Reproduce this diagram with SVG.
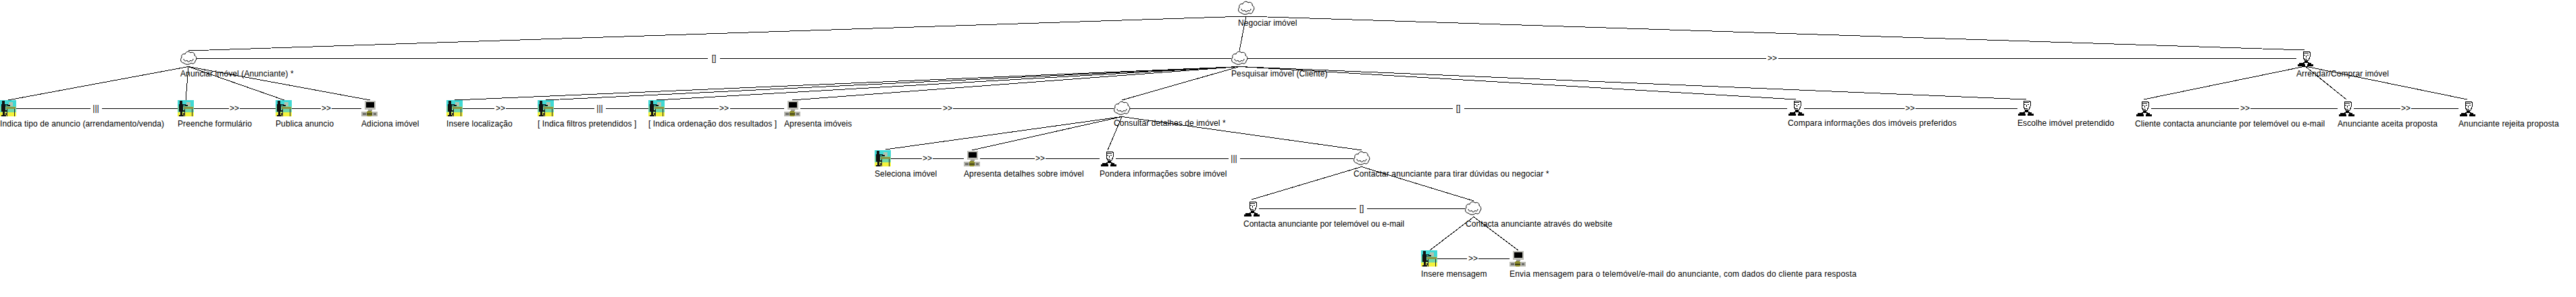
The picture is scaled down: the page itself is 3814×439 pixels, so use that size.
<svg xmlns="http://www.w3.org/2000/svg" width="3814" height="439" viewBox="0 0 3814 439">
<style>
text{font-family:"Liberation Sans",Arial,sans-serif;font-size:12px;fill:#000;letter-spacing:.1px}
.c{text-anchor:middle;letter-spacing:0}
.w{letter-spacing:.2px}
.n{letter-spacing:0}
.l{fill:none;stroke:#000;stroke-width:1;shape-rendering:crispEdges}
.px{shape-rendering:crispEdges}
</style>
<defs>
<g id="task" class="px">
<rect width="24" height="18" fill="#3fd8d4"/>
<rect y="9" width="24" height="9" fill="#6fd8a8"/>
<rect y="18" width="24" height="6" fill="#f4f23c"/>
<rect x="13" y="3" width="6" height="6" fill="#b4c4b0"/>
<rect x="9" y="10" width="14" height="3" fill="#8c9440"/>
<rect x="10" y="13" width="1" height="11" fill="#222"/>
<rect x="21" y="13" width="1" height="11" fill="#222"/>
<path d="M8 6L15 8M8 9L15 8" stroke="#111" fill="none"/>
<rect x="3" y="1" width="4" height="5" fill="#111"/>
<rect x="2" y="6" width="6" height="10" fill="#111"/>
<rect x="2" y="15" width="9" height="2" fill="#111"/>
<rect x="4" y="16" width="3" height="7" fill="#111"/>
<rect x="2" y="22" width="7" height="2" fill="#111"/>
<rect x="8" y="19" width="3" height="3" fill="#333"/>
</g>
<g id="sys" class="px">
<rect x="5" y="1" width="16" height="13" fill="#bdbdb5"/>
<rect x="7" y="3" width="12" height="8" fill="#000"/>
<rect x="10" y="14" width="6" height="2" fill="#9a9a92"/>
<rect y="17" width="24" height="7" fill="#b8b8b0"/>
<rect x="2" y="19" width="5" height="3" fill="#6e6e68"/>
<rect x="18" y="19" width="4" height="3" fill="#6e6e68"/>
<circle cx="12" cy="20" r="4.500" fill="#8c8c2c"/>
<rect x="8" y="20" width="8" height="1" fill="#000"/>
</g>
<g id="actor">
<path d="M8 2H17V3H18V10L16 15H10L8 10Z" fill="#fff" stroke="#000" class="px"/>
<path d="M9 4H16M9 7H11M14 7H16M12 8V11M10 13H14" stroke="#000" fill="none" class="px"/>
<rect x="10" y="16" width="5" height="3" fill="#000"/>
<path d="M0 24V21H2V19H8V18H10V21H11V24ZM14 24V21H15V18H17V19H20V21H23V24Z" fill="#000" class="px"/>
</g>
<g id="cloud">
<path d="M5 17C1 17 -1 12 2 9C1 5 4 3 7 4C8 0 13 -1 15 2C18 0 22 3 21 6C24 7 25 12 22 14C22 18 18 19 16 17C13 20 8 20 5 17Z" fill="#fff" stroke="#000"/>
<path d="M5 11C5 14 8 15 10 13C10 16 14 16 15 13C16 15 19 14 19 11" fill="none" stroke="#000"/>
</g>
</defs>
<rect width="3814" height="439" fill="#fff"/>
<g id="connectors">
<path class="l" d="M1845 24L279 75M1845 24L1835 75M1845 24L3412 74"/>
<path class="l" d="M279 98.500L12 148M279 98.500L275 148M279 98.500L421 148M279 98.500L548 148"/>
<path class="l" d="M1835 98.500L673 148M1835 98.500L808 148M1835 98.500L972 148M1835 98.500L1173 148M1835 98.500L1661 148M1835 98.500L2659 147M1835 98.500L3000 147"/>
<path class="l" d="M3413 98L3174 147M3413 98L3474 147M3413 98L3653 147"/>
<path class="l" d="M1661 172.500L1311 221M1661 172.500L1439 222M1661 172.500L1640 222M1661 172.500L2016 222"/>
<path class="l" d="M2016 246.500L1853 295M2016 246.500L2182 297"/>
<path class="l" d="M2182 320.500L2117 370M2182 320.500L2248 370"/>
<path class="l" d="M291 86.500H1048M1066 86.500H1823M1847 86.500H2615M2633 86.500H3400"/>
<path class="l" d="M24 160.500H134M151 160.500H263M287 160.500H339M355 160.500H408M432 160.500H475M491 160.500H535"/>
<path class="l" d="M685 160.500H732M749 160.500H796M820 160.500H880M897 160.500H960M984 160.500H1064M1081 160.500H1161M1185 160.500H1394M1411 160.500H1649M1673 160.500H2151M2168 160.500H2646M2671 160.500H2820M2836 160.500H2987"/>
<path class="l" d="M3185 160.500H3315M3332 160.500H3461M3485 160.500H3554M3570 160.500H3640"/>
<path class="l" d="M1319 234.500H1365M1381 234.500H1427M1451 234.500H1532M1548 234.500H1628M1652 234.500H1819M1836 234.500H2004"/>
<path class="l" d="M1864 308.500H2008M2024 308.500H2169M2128 382.500H2172M2189 382.500H2235"/>
<g id="connector-labels">
<text class="c" x="1057" y="90">[]</text>
<text class="c" x="2624" y="90">&gt;&gt;</text>
<text class="c" x="142" y="164">|||</text>
<text class="c" x="347" y="164">&gt;&gt;</text>
<text class="c" x="483" y="164">&gt;&gt;</text>
<text class="c" x="741" y="164">&gt;&gt;</text>
<text class="c" x="888" y="164">|||</text>
<text class="c" x="1072" y="164">&gt;&gt;</text>
<text class="c" x="1403" y="164">&gt;&gt;</text>
<text class="c" x="2159" y="164">[]</text>
<text class="c" x="2828" y="164">&gt;&gt;</text>
<text class="c" x="3324" y="164">&gt;&gt;</text>
<text class="c" x="3562" y="164">&gt;&gt;</text>
<text class="c" x="1373" y="238">&gt;&gt;</text>
<text class="c" x="1540" y="238">&gt;&gt;</text>
<text class="c" x="1827" y="238">|||</text>
<text class="c" x="2016" y="312">[]</text>
<text class="c" x="2181" y="386">&gt;&gt;</text>
</g>
</g>
<g id="negociar"><use href="#cloud" x="1833" y="2"/><text x="1833" y="38">Negociar imóvel</text></g>
<g id="anunciar"><use href="#cloud" x="267" y="76"/><text x="267" y="113">Anunciar imóvel (Anunciante) *</text></g>
<g id="pesquisar"><use href="#cloud" x="1823" y="76"/><text x="1823" y="113">Pesquisar imóvel (Cliente)</text></g>
<g id="arrendar"><use href="#actor" x="3402" y="74"/><text x="3400" y="113">Arrendar/Comprar imóvel</text></g>
<g id="indica-tipo"><use href="#task" x="0" y="148"/><text x="0" y="187">Indica tipo de anuncio (arrendamento/venda)</text></g>
<g id="preenche"><use href="#task" x="263" y="148"/><text x="263" y="187">Preenche formulário</text></g>
<g id="publica"><use href="#task" x="408" y="148"/><text x="408" y="187">Publica anuncio</text></g>
<g id="adiciona"><use href="#sys" x="535" y="148"/><text x="535" y="187">Adiciona imóvel</text></g>
<g id="insere-localizacao"><use href="#task" x="661" y="148"/><text x="661" y="187">Insere localização</text></g>
<g id="indica-filtros"><use href="#task" x="796" y="148"/><text x="796" y="187">[ Indica filtros pretendidos ]</text></g>
<g id="indica-ordenacao"><use href="#task" x="960" y="148"/><text x="960" y="187">[ Indica ordenação dos resultados ]</text></g>
<g id="apresenta-imoveis"><use href="#sys" x="1161" y="148"/><text x="1161" y="187">Apresenta imóveis</text></g>
<g id="consultar"><use href="#cloud" x="1649" y="150"/><text x="1649" y="186">Consultar detalhes de imóvel *</text></g>
<g id="compara"><use href="#actor" x="2648" y="147"/><text class="w" x="2647" y="186">Compara informações dos imóveis preferidos</text></g>
<g id="escolhe"><use href="#actor" x="2988" y="147"/><text x="2987" y="186">Escolhe imóvel pretendido</text></g>
<g id="cliente-contacta"><use href="#actor" x="3163" y="148"/><text x="3161" y="187">Cliente contacta anunciante por telemóvel ou e-mail</text></g>
<g id="aceita"><use href="#actor" x="3463" y="148"/><text x="3461" y="187">Anunciante aceita proposta</text></g>
<g id="rejeita"><use href="#actor" x="3642" y="148"/><text x="3640" y="187">Anunciante rejeita proposta</text></g>
<g id="seleciona"><use href="#task" x="1295" y="222"/><text x="1295" y="261">Seleciona imóvel</text></g>
<g id="apresenta-detalhes"><use href="#sys" x="1427" y="222"/><text x="1427" y="261">Apresenta detalhes sobre imóvel</text></g>
<g id="pondera"><use href="#actor" x="1630" y="222"/><text x="1628" y="261">Pondera informações sobre imóvel</text></g>
<g id="contactar"><use href="#cloud" x="2004" y="224"/><text x="2004" y="261">Contactar anunciante para tirar dúvidas ou negociar *</text></g>
<g id="contacta-telemovel"><use href="#actor" x="1842" y="296"/><text class="n" x="1841" y="335">Contacta anunciante por telemóvel ou e-mail</text></g>
<g id="contacta-website"><use href="#cloud" x="2169" y="298"/><text x="2170" y="335">Contacta anunciante através do website</text></g>
<g id="insere-mensagem"><use href="#task" x="2104" y="370"/><text x="2104" y="409">Insere mensagem</text></g>
<g id="envia"><use href="#sys" x="2235" y="370"/><text class="w" x="2235" y="409">Envia mensagem para o telemóvel/e-mail do anunciante, com dados do cliente para resposta</text></g>
</svg>
